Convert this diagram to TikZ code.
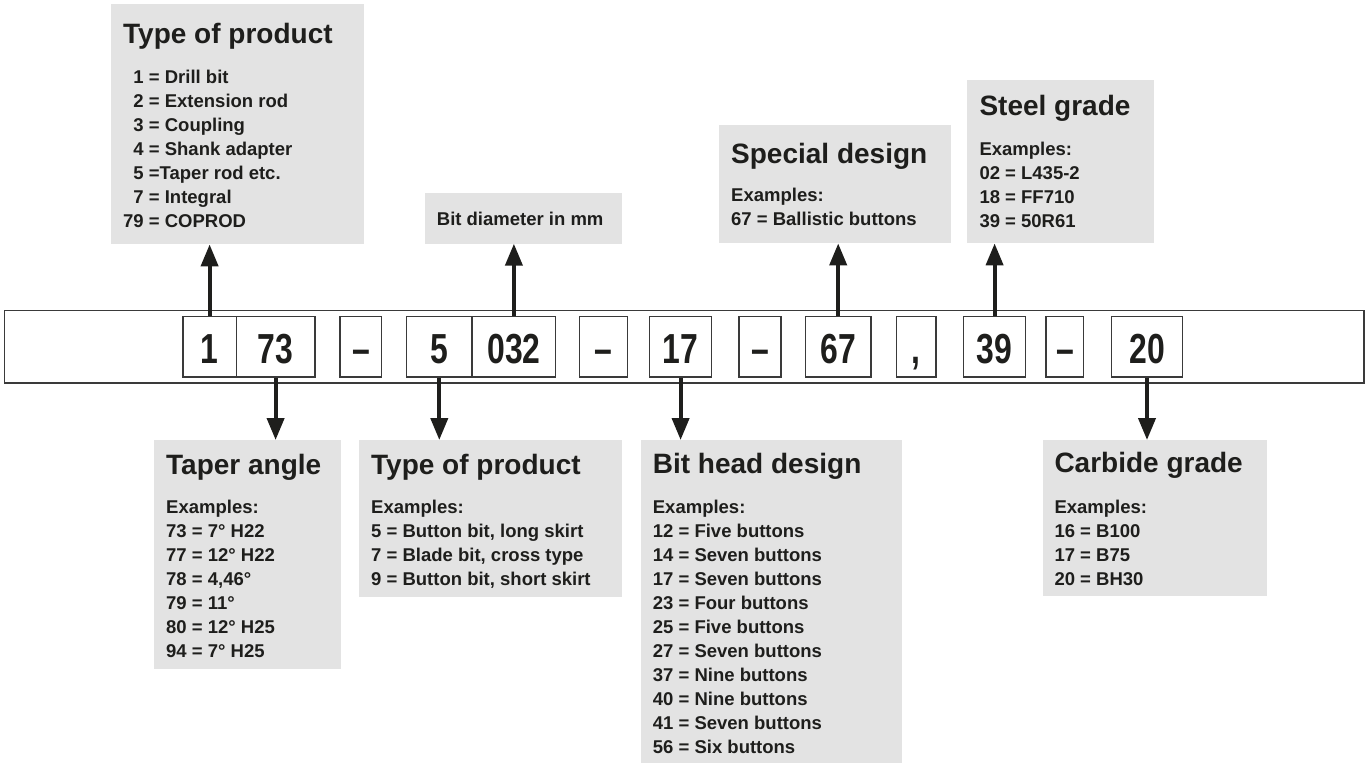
\documentclass[tikz,border=0pt]{standalone}
\usepackage{fontspec}
\setmainfont{Liberation Sans}
\newfontfamily\codefont{Liberation Sans}[FakeStretch=0.76]
\usetikzlibrary{arrows.meta}
\definecolor{boxgray}{HTML}{E3E3E3}
\definecolor{inkblack}{HTML}{1E1E1C}
\definecolor{framegray}{HTML}{3A3A3A}
\tikzset{
  infobox/.style={fill=boxgray, inner sep=0pt, anchor=north west},
  boxhead/.style={anchor=base west, inner sep=0pt, font=\fontsize{28}{32}\selectfont\bfseries},
  boxlist/.style={anchor=base west, inner sep=0pt, font=\fontsize{18.5}{24}\selectfont\bfseries},
  codebar/.style={draw=framegray, line width=1.3pt, inner sep=0pt},
  codebox/.style={draw=framegray, fill=white, line width=1.2pt, inner sep=0pt,
    minimum height=60.6pt, text height=33pt, text depth=0pt,
    font=\codefont\bfseries\fontsize{42}{42}\selectfont},
  pointer/.style={line width=4pt, -{Triangle[length=22pt,width=17pt]}}
}
\begin{document}
\begin{tikzpicture}[x=1pt, y=-1pt, color=inkblack]
  \useasboundingbox (0,0) rectangle (1365,763);

  % code line
  \node[codebar, minimum width=1359.5pt, minimum height=72.7pt] (bar) at (684.3,346.7) {};
  \node[codebox, minimum width=53.2pt] (c1) at (209.6,346.7) {1};
  \node[codebox, minimum width=78.8pt] (c73) at (275.6,346.7) {73};
  \node[codebox, minimum width=41.7pt] (d1) at (360.9,346.7) {\textendash};
  \node[codebox, minimum width=65.2pt] (c5) at (439.3,346.7) {5};
  \node[codebox, minimum width=83.9pt] (c032) at (513.9,346.7) {032};
  \node[codebox, minimum width=48.2pt] (d2) at (603.6,346.7) {\textendash};
  \node[codebox, minimum width=61.9pt] (c17) at (680.6,346.7) {17};
  \node[codebox, minimum width=42pt] (d3) at (760,346.7) {\textendash};
  \node[codebox, minimum width=65.5pt] (c67) at (838.2,346.7) {67};
  \node[codebox, minimum width=39.7pt] (cm) at (916.2,346.7) {,};
  \node[codebox, minimum width=62.1pt] (c39) at (994.6,346.7) {39};
  \node[codebox, minimum width=37.7pt] (d4) at (1064.9,346.7) {\textendash};
  \node[codebox, minimum width=71.6pt] (c20) at (1147,346.7) {20};

  % boxes above
  \node[infobox, minimum width=253pt, minimum height=240pt] (prodtype) at (111,4) {};
  \node[boxhead] (prodtype-h) at (123,43.3) {Type of product};
  \node[boxlist] (prodtype-l) at (123,83.3) {\begin{tabular}[t]{@{}r@{\ }l@{}}
    1 & = Drill bit\\
    2 & = Extension rod\\
    3 & = Coupling\\
    4 & = Shank adapter\\
    5 & =Taper rod etc.\\
    7 & = Integral\\
    79 & = COPROD
  \end{tabular}};

  \node[infobox, minimum width=196.7pt, minimum height=51pt] (bitdia) at (425,192.3) {};
  \node[boxlist] (bitdia-l) at (436.7,225) {Bit diameter in mm};

  \node[infobox, minimum width=232pt, minimum height=118pt] (special) at (719,125) {};
  \node[boxhead] (special-h) at (731,163.3) {Special design};
  \node[boxlist] (special-l) at (731,201.7) {\begin{tabular}[t]{@{}l@{}}
    Examples:\\
    67 = Ballistic buttons
  \end{tabular}};

  \node[infobox, minimum width=186.7pt, minimum height=163pt] (steel) at (967,80) {};
  \node[boxhead] (steel-h) at (979.3,115) {Steel grade};
  \node[boxlist] (steel-l) at (979.3,155) {\begin{tabular}[t]{@{}l@{}}
    Examples:\\
    02 = L435-2\\
    18 = FF710\\
    39 = 50R61
  \end{tabular}};

  % boxes below
  \node[infobox, minimum width=187pt, minimum height=228.7pt] (taper) at (154,440) {};
  \node[boxhead] (taper-h) at (166,474) {Taper angle};
  \node[boxlist] (taper-l) at (166,513.3) {\begin{tabular}[t]{@{}l@{}}
    Examples:\\
    73 = 7° H22\\
    77 = 12° H22\\
    78 = 4,46°\\
    79 = 11°\\
    80 = 12° H25\\
    94 = 7° H25
  \end{tabular}};

  \node[infobox, minimum width=263pt, minimum height=156.7pt] (bitkind) at (359,440) {};
  \node[boxhead] (bitkind-h) at (371,474) {Type of product};
  \node[boxlist] (bitkind-l) at (371,513.3) {\begin{tabular}[t]{@{}l@{}}
    Examples:\\
    5 = Button bit, long skirt\\
    7 = Blade bit, cross type\\
    9 = Button bit, short skirt
  \end{tabular}};

  \node[infobox, minimum width=261pt, minimum height=323pt] (bithead) at (641,440) {};
  \node[boxhead] (bithead-h) at (652.7,473.3) {Bit head design};
  \node[boxlist] (bithead-l) at (652.7,513.3) {\begin{tabular}[t]{@{}l@{}}
    Examples:\\
    12 = Five buttons\\
    14 = Seven buttons\\
    17 = Seven buttons\\
    23 = Four buttons\\
    25 = Five buttons\\
    27 = Seven buttons\\
    37 = Nine buttons\\
    40 = Nine buttons\\
    41 = Seven buttons\\
    56 = Six buttons
  \end{tabular}};

  \node[infobox, minimum width=224pt, minimum height=155.7pt] (carbide) at (1043,440) {};
  \node[boxhead] (carbide-h) at (1054.3,472.7) {Carbide grade};
  \node[boxlist] (carbide-l) at (1054.3,513) {\begin{tabular}[t]{@{}l@{}}
    Examples:\\
    16 = B100\\
    17 = B75\\
    20 = BH30
  \end{tabular}};

  % pointers
  \draw[pointer] (c1.north) -- (c1.north |- prodtype.south);
  \draw[pointer] (c032.north) -- (c032.north |- bitdia.south);
  \draw[pointer] (c67.north) -- (c67.north |- special.south);
  \draw[pointer] (c39.north) -- (c39.north |- steel.south);
  \draw[pointer] (c73.south) -- (c73.south |- taper.north);
  \draw[pointer] (c5.south) -- (c5.south |- bitkind.north);
  \draw[pointer] (c17.south) -- (c17.south |- bithead.north);
  \draw[pointer] (c20.south) -- (c20.south |- carbide.north);
\end{tikzpicture}
\end{document}
